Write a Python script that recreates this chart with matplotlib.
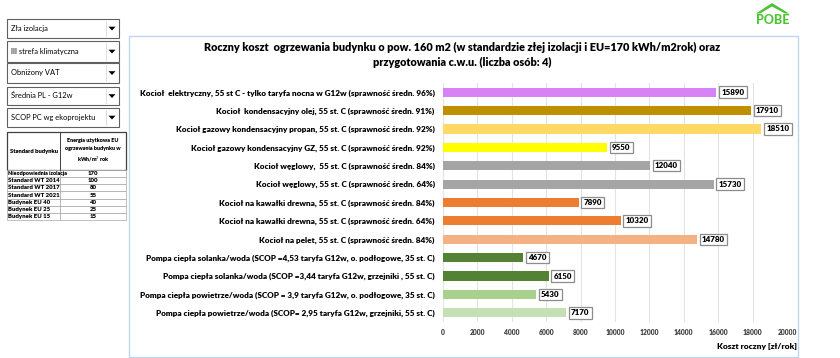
import matplotlib
matplotlib.use("Agg")
import matplotlib.pyplot as plt
from matplotlib.patches import Rectangle, Polygon

plt.rcParams["font.family"] = ["Lato", "DejaVu Sans"]

# -----------------------
# DATA
# -----------------------
categories = [
    "Kocioł  elektryczny, 55 st C - tylko taryfa nocna w G12w (sprawność średn. 96%)",
    "Kocioł  kondensacyjny olej, 55 st. C (sprawność średn. 91%)",
    "Kocioł gazowy kondensacyjny propan, 55 st. C (sprawność średn. 92%)",
    "Kocioł gazowy kondensacyjny GZ, 55 st. C (sprawność średn. 92%)",
    "Kocioł węglowy,  55 st. C (sprawność średn. 84%)",
    "Kocioł węglowy, 55 st. C (sprawność średn. 64%)",
    "Kocioł na kawałki drewna, 55 st. C (sprawność średn. 84%)",
    "Kocioł na kawałki drewna, 55 st. C (sprawność średn. 64%)",
    "Kocioł na pelet, 55 st. C (sprawność średn. 84%)",
    "Pompa ciepła solanka/woda (SCOP =4,53 taryfa G12w, o. podłogowe, 35 st. C)",
    "Pompa ciepła solanka/woda (SCOP =3,44 taryfa G12w, grzejniki , 55 st. C)",
    "Pompa ciepła powietrze/woda (SCOP = 3,9 taryfa G12w, o. podłogowe, 35 st. C)",
    "Pompa ciepła powietrze/woda (SCOP= 2,95 taryfa G12w, grzejniki, 55 st. C)",
]
costs = [15890, 17910, 18510, 9550, 12040, 15730, 7890, 10320, 14780, 4670, 6150, 5430, 7170]
x_ticks = [0, 2000, 4000, 6000, 8000, 10000, 12000, 14000, 16000, 18000, 20000]

dropdowns = ["Zła izolacja", "III strefa klimatyczna", "Obniżony VAT",
             "Średnia PL - G12w", "SCOP PC wg ekoprojektu"]
standards = ["Nieodpowiednia izolacja", "Standard WT 2014", "Standard WT 2017",
             "Standard WT 2021", "Budynek EU 40", "Budynek EU 25", "Budynek EU 15"]
eu_values = [170, 100, 80, 55, 40, 25, 15]

title = ("Roczny koszt  ogrzewania budynku o pow. 160 m2 (w standardzie złej izolacji i EU=170 kWh/m2rok) oraz\n"
         "przygotowania c.w.u. (liczba osób: 4)")

bar_colors = ["#D883F5", "#BF8F00", "#FFD966", "#FFFF00", "#A5A5A5", "#A5A5A5",
              "#ED7D31", "#ED7D31", "#F4B183", "#548235", "#548235", "#A9D18E", "#C5E0B4"]

W, H = 840, 358
fig = plt.figure(figsize=(W / 100, H / 100), dpi=100)

# overlay in pixel coordinates for the decorations
ov = fig.add_axes([0, 0, 1, 1], zorder=0)
ov.set_xlim(0, W)
ov.set_ylim(H, 0)
ov.axis("off")

# chart frame
ov.add_patch(Rectangle((128.5, 35.5), 669.5, 321, fill=False, ec="#BDD7EE", lw=1.0))

# title
ov.text(462, 55, title, ha="center", va="center", fontsize=7.8, fontweight="heavy",
        linespacing=1.45)
ov.text(797, 347, "Koszt roczny [zł/rok]", ha="right", va="center", fontsize=6.0,
        fontweight="heavy")

# dropdown boxes
boxes = [(19, 38), (41, 62), (63, 83), (87, 105), (108, 127)]
for (y0, y1), txt in zip(boxes, dropdowns):
    ov.add_patch(Rectangle((7, y0), 112, y1 - y0, fc="white", ec="#606060", lw=0.8))
    ov.plot([106, 106], [y0 + 2, y1 - 2], color="#D0D0D0", lw=0.5)
    yc = (y0 + y1) / 2
    ov.add_patch(Polygon([(108.5, yc - 1.8), (115.5, yc - 1.8), (112, yc + 2.0)],
                         closed=True, fc="black", ec="none"))
    ov.text(11, yc, txt, ha="left", va="center", fontsize=5.4)

# building standard table
tx0, tx1, tx2 = 7, 60, 126
hy0, hy1 = 132, 170
row_h = (220 - hy1) / len(standards)
ov.add_patch(Rectangle((tx0, hy0), tx2 - tx0, hy1 - hy0, fc="white", ec="#404040", lw=0.9))
ov.plot([tx1, tx1], [hy0, hy1], color="#404040", lw=0.7)
ov.text((tx0 + tx1) / 2, (hy0 + hy1) / 2, "Standard budynku", ha="center", va="center",
        fontsize=4.2, fontweight="heavy")
ov.text((tx1 + tx2) / 2, (hy0 + hy1) / 2, "Energia użytkowa EU\nogrzewania budynku w\nkWh/m$^2$ rok",
        ha="center", va="center", fontsize=3.9, fontweight="heavy", linespacing=1.6)
for i, (name, val) in enumerate(zip(standards, eu_values)):
    ry = hy1 + i * row_h
    ov.add_patch(Rectangle((tx0, ry), tx1 - tx0, row_h, fc="white", ec="#A6A6A6", lw=0.5))
    ov.add_patch(Rectangle((tx1, ry), tx2 - tx1, row_h, fc="white", ec="#A6A6A6", lw=0.5))
    ov.text(tx0 + 1.5, ry + row_h / 2, name, ha="left", va="center",
            fontsize=3.9 if i == 0 else 4.3, fontweight="heavy")
    ov.text((tx1 + tx2) / 2, ry + row_h / 2, str(val), ha="center", va="center",
            fontsize=4.3, fontweight="heavy")

# logo
green = "#4CC431"
ov.add_patch(Polygon([(756, 13.5), (772, 3), (789, 13.5), (785, 13.5), (772, 6.5), (760, 13.5)],
                     closed=True, fc=green, ec="none"))
ov.text(772.5, 19.5, "POBE", ha="center", va="center", fontsize=9.0, fontweight="black",
        color=green)

# -----------------------
# BAR CHART
# -----------------------
ax = fig.add_axes([443 / W, 1 - 322 / H, (787 - 443) / W, (322 - 83) / H], zorder=2)
ax.patch.set_alpha(0)
ypos = list(range(len(categories)))
ax.barh(ypos, costs, height=0.5, color=bar_colors, zorder=3)
ax.set_ylim(len(categories) - 0.5, -0.5)
ax.set_xlim(0, 20000)
ax.set_xticks(x_ticks)
ax.set_xticklabels([str(t) for t in x_ticks], fontsize=4.9, fontweight="heavy", color="#404040")
ax.set_yticks(ypos)
ax.set_yticklabels(categories, fontsize=5.9, fontweight="heavy")
ax.tick_params(axis="y", length=0, pad=6)
ax.tick_params(axis="x", length=0, pad=5)
ax.grid(axis="x", color="#E3E3E3", lw=0.8, zorder=0)
for s in ax.spines.values():
    s.set_visible(False)

for y, v in zip(ypos, costs):
    ax.annotate(str(v), xy=(v, y), xytext=(3.5, 0), textcoords="offset points",
                ha="left", va="center", fontsize=5.8, fontweight="heavy",
                bbox=dict(boxstyle="square,pad=0.28", fc="white", ec="#8C8C8C", lw=0.9),
                zorder=4)

fig.savefig("out.png", dpi=100)
